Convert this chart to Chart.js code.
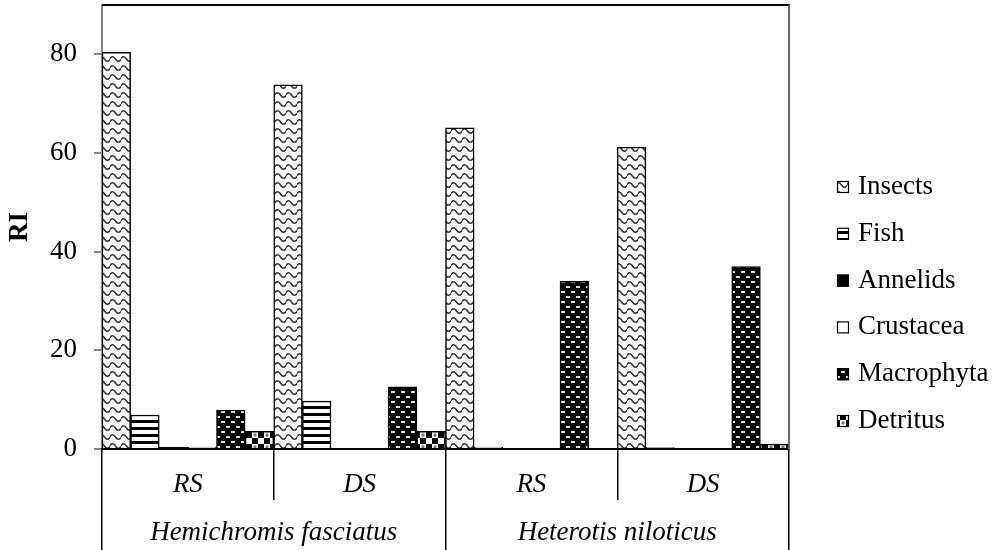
<!DOCTYPE html>
<html><head><meta charset="utf-8">
<script src="https://cdn.jsdelivr.net/npm/chart.js@4.4.0/dist/chart.umd.min.js"></script>
<style>html,body{margin:0;padding:0;background:#fff;}#wrap{width:1003px;height:550px;position:relative}</style>
</head><body><div id="wrap"><canvas id="c" width="1003" height="550"></canvas></div>
<script>
// ---- data ----
const seasons = ['RS', 'DS', 'RS', 'DS'];
const species = ['Hemichromis fasciatus', 'Heterotis niloticus'];
const seriesNames = ['Insects', 'Fish', 'Annelids', 'Crustacea', 'Macrophyta', 'Detritus'];
const insects = [80.4, 73.8, 65.1, 61.2];
const fish = [6.9, 9.7, 0.4, 0.3];
const annelids = [0.4, 0, 0, 0];
const crustacea = [0.4, 0, 0, 0];
const macrophyta = [7.9, 12.6, 34.0, 37.0];
const detritus = [3.6, 3.6, 0, 1.0];
const yTicks = [0, 20, 40, 60, 80];
const yMax = 90;
const axisTitle = 'RI';

// ---- patterns ----
function mkPattern(w, h, draw) {
  const c = document.createElement('canvas');
  c.width = w; c.height = h;
  const g = c.getContext('2d');
  draw(g, w, h);
  return g.createPattern(c, 'repeat');
}
const pInsects = mkPattern(11, 9, (g, w, h) => {
  g.fillStyle = '#fff'; g.fillRect(0, 0, w, h);
  g.strokeStyle = '#333'; g.lineWidth = 1.5;
  g.beginPath();
  g.moveTo(-0.5, 5);
  g.quadraticCurveTo(2.75, 0.5, 5.5, 5);
  g.quadraticCurveTo(8.25, 9.5, 11.5, 5);
  g.stroke();
});
const pFish = mkPattern(8, 7, (g, w, h) => {
  g.fillStyle = '#fff'; g.fillRect(0, 0, w, h);
  g.fillStyle = '#000'; g.fillRect(0, 0, w, 3);
});
const pMacro = mkPattern(10, 10, (g, w, h) => {
  g.fillStyle = '#000'; g.fillRect(0, 0, w, h);
  g.fillStyle = '#ddd';
  g.fillRect(1, 1, 4, 2);
  g.fillRect(6, 6, 4, 2);
});
const pDetritus = mkPattern(12, 12, (g, w, h) => {
  g.fillStyle = '#fff'; g.fillRect(0, 0, w, h);
  g.fillStyle = '#000';
  g.fillRect(0, 6, 6, 6);
  g.fillRect(6, 0, 6, 6);
  g.fillStyle = '#777';
  g.beginPath(); g.moveTo(3, 1); g.lineTo(5, 3); g.lineTo(3, 5); g.lineTo(1, 3); g.closePath(); g.fill();
});

const fills = [pInsects, pFish, '#000', '#fff', pMacro, pDetritus];
const values = [insects, fish, annelids, crustacea, macrophyta, detritus];

const datasets = seriesNames.map((name, i) => ({
  label: name,
  data: values[i],
  backgroundColor: fills[i],
  borderColor: '#000',
  borderWidth: 1.5,
  barPercentage: 1,
  categoryPercentage: 1,
  xAxisID: 'x',
  yAxisID: 'y'
}));

const FONT = 'Liberation Serif';

const frame = {
  id: 'frame',
  afterDraw(chart) {
    const { ctx, chartArea: a } = chart;
    ctx.save();
    ctx.lineWidth = 2;
    ctx.strokeStyle = '#000';
    ctx.beginPath(); ctx.moveTo(a.left, a.top); ctx.lineTo(a.right + 1, a.top); ctx.stroke();
    ctx.strokeStyle = '#666';
    ctx.beginPath(); ctx.moveTo(a.right, a.top); ctx.lineTo(a.right, a.bottom); ctx.stroke();
    ctx.restore();
  }
};

const legendBox = {
  id: 'legendBox',
  afterDraw(chart) {
    const ctx = chart.ctx;
    ctx.save();
    ctx.font = '27px "' + FONT + '"';
    ctx.textBaseline = 'middle';
    ctx.textAlign = 'left';
    chart.data.datasets.forEach((ds, i) => {
      const y = 187 + i * 46.8;
      ctx.fillStyle = ds.backgroundColor;
      ctx.fillRect(837, y - 6, 12, 12);
      ctx.strokeStyle = '#000'; ctx.lineWidth = 1.2;
      ctx.strokeRect(837.5, y - 5.5, 11, 11);
      ctx.fillStyle = '#000';
      ctx.fillText(ds.label, 858, y);
    });
    ctx.restore();
  }
};

function noPad(s) { s.paddingTop = 0; s.paddingBottom = 0; s.paddingLeft = 0; s.paddingRight = 0; }

new Chart(document.getElementById('c'), {
  type: 'bar',
  data: { labels: seasons, datasets },
  options: {
    responsive: false,
    maintainAspectRatio: false,
    animation: false,
    devicePixelRatio: 1,
    layout: { padding: { top: 5, right: 214, bottom: 0, left: 0 } },
    plugins: { legend: { display: false }, tooltip: { enabled: false } },
    scales: {
      y: {
        min: 0, max: yMax,
        afterBuildTicks: s => { s.ticks = yTicks.map(v => ({ value: v })); },
        afterFit: s => { s.width = 102; noPad(s); },
        ticks: { color: '#000', padding: 17, font: { family: FONT, size: 27 } },
        grid: { drawOnChartArea: false, tickLength: 8, color: '#888', lineWidth: 2 },
        border: { color: '#888', width: 2 },
        title: { display: true, text: axisTitle, color: '#000', padding: { top: 4, bottom: 0 },
                 font: { family: FONT, size: 27, weight: 'bold' } }
      },
      x: {
        type: 'category',
        position: 'bottom',
        weight: 0,
        offset: true,
        afterFit: s => { s.height = 51; noPad(s); },
        ticks: { color: '#000', padding: -31, maxRotation: 0, autoSkip: false,
                 font: { family: FONT, size: 27, style: 'italic' } },
        grid: { offset: true, drawOnChartArea: false, tickLength: 51, color: '#000', lineWidth: 1.5 },
        border: { color: '#000', width: 2 }
      },
      x2: {
        type: 'category',
        position: 'bottom',
        weight: 1,
        labels: species,
        offset: true,
        afterFit: s => { s.height = 50; noPad(s); },
        ticks: { color: '#000', padding: -33, maxRotation: 0, autoSkip: false,
                 font: { family: FONT, size: 27, style: 'italic' } },
        grid: { offset: true, drawOnChartArea: false, tickLength: 50, color: '#000', lineWidth: 1.5 },
        border: { display: false }
      }
    }
  },
  plugins: [frame, legendBox]
});
</script>
</body></html>
